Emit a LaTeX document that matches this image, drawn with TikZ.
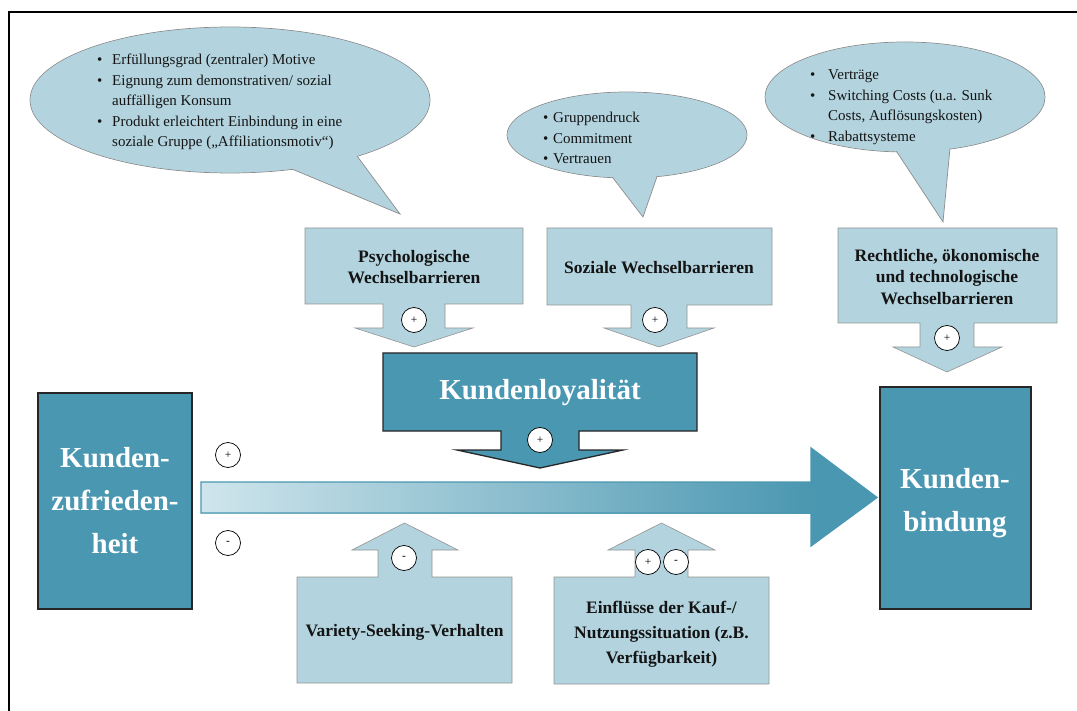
\documentclass[tikz,border=0pt]{standalone}
\usepackage{fontspec}
\setmainfont{Liberation Serif}
\definecolor{paleblue}{HTML}{B3D4DF}
\definecolor{deepteal}{HTML}{4A97B1}
\definecolor{shaftpale}{HTML}{CFE5EC}
\newcommand\bulA{\makebox[15pt][l]{•}}
\newcommand\bulB{\makebox[18pt][l]{•}}
\newcommand\bulC{\makebox[10pt][l]{•}}
\begin{document}
\begin{tikzpicture}[x=1pt,y=-1pt,
  lightbox/.style={fill=paleblue, draw=gray!85, line width=0.6pt},
  darkbox/.style={fill=deepteal, draw=black!85, line width=1.3pt},
  bubble/.style={fill=paleblue, draw=gray!90, line width=0.7pt},
  bubblefill/.style={fill=paleblue, draw=none},
  sign/.style={circle, draw=black, fill=white, line width=0.7pt, minimum size=25pt, inner sep=0pt, font=\fontsize{11.5}{11.5}\selectfont},
  boxlabel/.style={font=\bfseries\fontsize{17.5}{21.5}\selectfont, align=center, text=black!92, inner sep=0pt},
  biglabel/.style={font=\bfseries\fontsize{29}{43}\selectfont, text=white, align=center, inner sep=0pt},
  bullets/.style={font=\fontsize{15}{20.5}\selectfont, align=left, inner sep=0pt, anchor=west, text=black!92}]
\useasboundingbox (0,0) rectangle (1077,711);

% outer frame
\draw[line width=2pt] (1080,12) -- (9,12) -- (9,715);

% ---- speech bubbles ----
% motives bubble
\draw[bubble] (230,100) ellipse [x radius=200, y radius=73];
\draw[bubble] (263,157) -- (400,214) -- (343,137);
\fill[bubblefill] (230,100) ellipse [x radius=199.3, y radius=72.3];
\node[bullets] (motive) at (97,102) {\bulA Erfüllungsgrad (zentraler) Motive\\
  \bulA Eignung zum demonstrativen/ sozial\\
  \hspace*{15pt}auffälligen Konsum\\
  \bulA Produkt erleichtert Einbindung in eine\\
  \hspace*{15pt}soziale Gruppe („Affiliationsmotiv“)};

% social bubble
\draw[bubble] (627,135) ellipse [x radius=120, y radius=43];
\draw[bubble] (603,165) -- (643,217) -- (661,165);
\fill[bubblefill] (627,135) ellipse [x radius=119.3, y radius=42.3];
\node[bullets] (social) at (543,138) {\bulC Gruppendruck\\ \bulC Commitment\\ \bulC Vertrauen};

% legal bubble
\draw[bubble] (905,97) ellipse [x radius=140, y radius=55];
\draw[bubble] (887,137) -- (943,222) -- (952,127);
\fill[bubblefill] (905,97) ellipse [x radius=139.3, y radius=54.3];
\node[bullets] (legal) at (810,107) {\bulB Verträge\\
  \bulB Switching Costs (u.a. Sunk\\
  \hspace*{18pt}Costs, Auflösungskosten)\\
  \bulB Rabattsysteme};

% ---- barrier callouts (pointing down) ----
\draw[lightbox] (305,228) -- (523,228) -- (523,304) -- (445,304) -- (445,328) -- (473,328)
  -- (414,347) -- (355,328) -- (383,328) -- (383,304) -- (305,304) -- cycle;
\node[boxlabel] (psych) at (414,267) {Psychologische\\Wechselbarrieren};
\node[sign] (psychsign) at (414,320) {+};

\draw[lightbox] (547,228) -- (772,228) -- (772,305) -- (687,305) -- (687,328) -- (714,328)
  -- (659,347) -- (604,328) -- (631,328) -- (631,305) -- (547,305) -- cycle;
\node[boxlabel] (sozial) at (659,268) {Soziale Wechselbarrieren};
\node[sign] (sozialsign) at (655,320) {+};

\draw[lightbox] (838,228) -- (1057,228) -- (1057,323) -- (974,323) -- (974,347) -- (1002,347)
  -- (947,372) -- (893,347) -- (920,347) -- (920,323) -- (838,323) -- cycle;
\node[boxlabel] (recht) at (947,277) {Rechtliche, ökonomische\\und technologische\\Wechselbarrieren};
\node[sign] (rechtsign) at (947,338) {+};

% ---- loyalty callout ----
\draw[darkbox] (383,353) -- (697,353) -- (697,431) -- (579,431) -- (579,450) -- (623,450)
  -- (540,468) -- (457,450) -- (501,450) -- (501,431) -- (383,431) -- cycle;
\node[biglabel] (loyal) at (540,393) {Kundenloyalität};
\node[sign] (loyalsign) at (540,440) {+};

% ---- main arrow ----
\shade[left color=shaftpale, right color=deepteal] (201,482) rectangle (812,513);
\fill[deepteal] (811,482) -- (811,448) -- (877,497.5) -- (811,546) -- (811,513) -- cycle;
\draw[deepteal, line width=1.3pt] (201,482) -- (811,482) -- (811,448) -- (877,497.5)
  -- (811,546) -- (811,513) -- (201,513) -- cycle;

% ---- end boxes ----
\node[darkbox, minimum width=154pt, minimum height=216pt, inner sep=0pt] (zufr) at (115,501) {};
\node[biglabel] (zufrtext) at (zufr) {Kunden-\\zufrieden-\\heit};
\node[darkbox, minimum width=151pt, minimum height=222pt, inner sep=0pt] (bind) at (955.5,498) {};
\node[biglabel] (bindtext) at (955,503) {Kunden-\\bindung};

\node[sign] (plusleft) at (228,455) {+};
\node[sign] (minusleft) at (228,543) {-};

% ---- influence callouts (pointing up) ----
\draw[lightbox] (297,683) -- (512,683) -- (512,577) -- (432,577) -- (432,550) -- (458,550)
  -- (404.5,523) -- (352,550) -- (378,550) -- (378,577) -- (297,577) -- cycle;
\node[boxlabel] (variety) at (404.5,632) {Variety-Seeking-Verhalten};
\node[sign] (varietysign) at (404,558) {-};

\draw[lightbox] (554,684) -- (769,684) -- (769,577) -- (688,577) -- (688,550) -- (715,550)
  -- (661.5,523) -- (608,550) -- (635,550) -- (635,577) -- (554,577) -- cycle;
\node[boxlabel, font=\bfseries\fontsize{17.5}{25}\selectfont] (kauf) at (661.5,634)
  {Einflüsse der Kauf-/\\Nutzungssituation (z.B.\\Verfügbarkeit)};
\node[sign] (kaufplus) at (648,562) {+};
\node[sign] (kaufminus) at (676,562) {-};
\end{tikzpicture}
\end{document}
